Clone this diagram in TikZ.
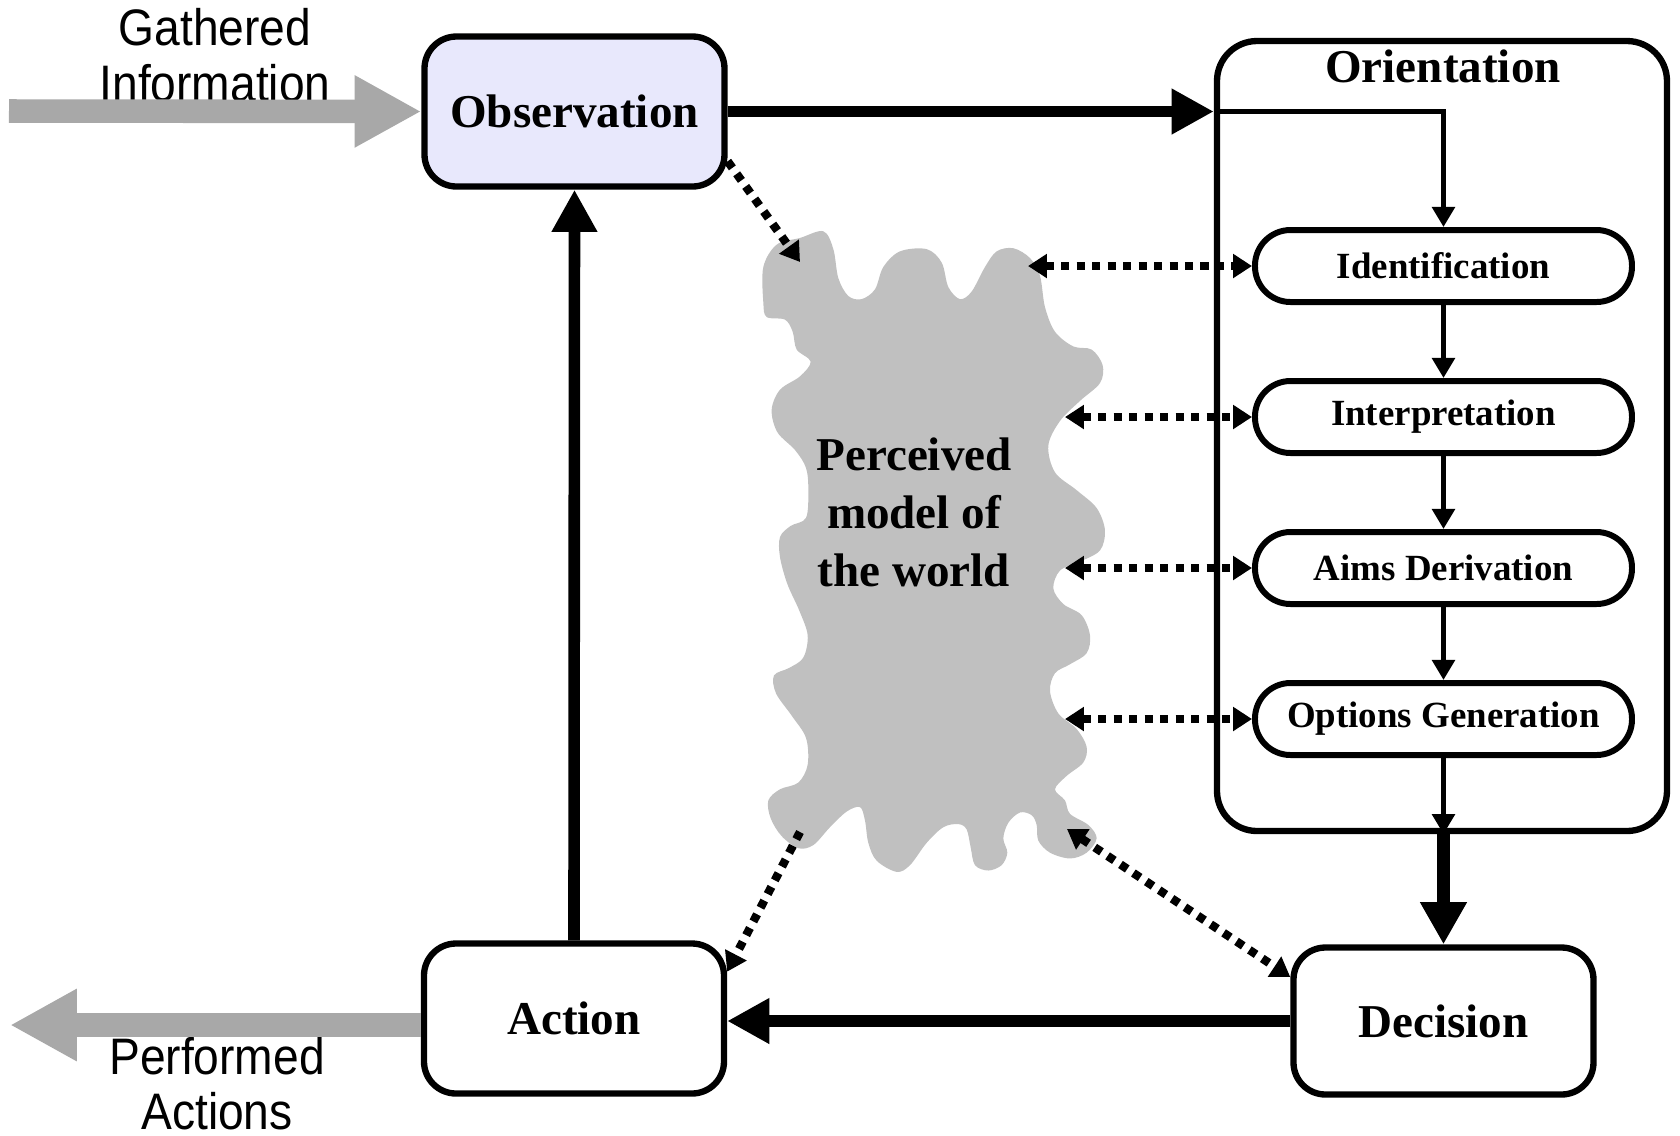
\documentclass[tikz,border=0pt]{standalone}
\usepackage{fontspec}
\setmainfont{Liberation Serif}
\newfontfamily\arialfont[FakeStretch=0.9]{Liberation Sans}
\usetikzlibrary{arrows.meta}
\definecolor{obsfill}{RGB}{232,232,252}
\definecolor{arrgray}{RGB}{168,168,168}
\definecolor{blobgray}{RGB}{192,192,192}
\tikzset{
  box/.style={draw, line width=1.8pt, rounded corners=3.2mm, minimum width=30mm, minimum height=15mm,
    font=\bfseries\fontsize{13.4}{16}\selectfont, inner sep=0pt},
  container/.style={draw, line width=1.8pt, rounded corners=4mm, minimum width=45mm, minimum height=79mm, inner sep=0pt},
  pill/.style={draw, line width=1.7pt, rounded corners=3.55mm, minimum width=37.7mm, minimum height=7.2mm,
    fill=white, font=\bfseries\fontsize{10.5}{12}\selectfont, inner sep=0pt},
  sanslbl/.style={font=\arialfont\fontsize{14.6}{16}\selectfont, inner sep=0pt, anchor=base},
  titlelbl/.style={font=\bfseries\fontsize{13.4}{16}\selectfont, inner sep=0pt, anchor=base},
  bigarr/.style={line width=3.3pt, -{Triangle[length=12pt,width=12.2pt]}},
  bigarrb/.style={line width=3.9pt, -{Triangle[length=12pt,width=12.5pt]}},
  innerarr/.style={line width=1.5pt, -{Triangle[length=5.7pt,width=6.3pt]}},
  grayarr/.style={draw=arrgray, line width=6.7pt, -{Triangle[length=19pt,width=19.2pt]}},
  dotline/.style={line width=2.4pt, dash pattern=on 2.3pt off 2.1pt},
  dotarr/.style={dotline, -{Triangle[length=5.4pt,width=6.6pt]}},
  dotarrb/.style={dotline, {Triangle[length=5.4pt,width=6.6pt]}-{Triangle[length=5.4pt,width=6.6pt]}},
}
\begin{document}
\begin{tikzpicture}[x=0.1mm, y=-0.1mm]
\useasboundingbox (0,0) rectangle (1680,1135);

% perceived model blob
\begin{scope}[shift={(700,200)}, xscale=1/3, yscale=1/2.24]
\fill[blobgray] plot[smooth cycle, tension=0.55] coordinates {
(190,150) (230,100) (300,85) (370,70) (400,110) (415,175) (445,215) (485,222) (525,200) (550,150)
(600,115) (680,110) (725,140) (745,195) (780,222) (815,205) (855,150) (890,115) (940,108) (990,130)
(1020,170) (1035,240) (1065,295) (1120,328) (1175,335) (1208,370) (1200,410) (1140,450) (1080,495)
(1045,550) (1065,610) (1130,650) (1190,690) (1215,740) (1200,785) (1140,810) (1080,830) (1060,870)
(1090,905) (1145,930) (1170,975) (1160,1015) (1110,1040) (1065,1060) (1050,1100) (1075,1150)
(1130,1185) (1160,1225) (1150,1260) (1100,1290) (1065,1320) (1095,1345) (1110,1375) (1165,1400)
(1190,1430) (1160,1462) (1110,1475) (1050,1462) (1015,1435) (1010,1400) (995,1378) (960,1372)
(925,1395) (910,1430) (922,1462) (905,1490) (865,1502) (825,1490) (812,1450) (800,1410) (775,1398)
(730,1405) (680,1440) (630,1490) (590,1505) (530,1480) (505,1440) (495,1390) (480,1360) (440,1370)
(390,1405) (340,1445) (295,1452) (245,1425) (212,1385) (205,1345) (240,1320) (295,1305) (323,1265)
(318,1205) (275,1155) (228,1105) (222,1065) (268,1048) (310,1025) (323,975) (298,920) (262,860)
(240,800) (240,755) (272,730) (318,712) (325,650) (318,600) (285,560) (232,520) (215,470) (240,425)
(300,395) (332,362) (290,335) (278,295) (255,268) (200,262) (190,230)};
\end{scope}
\node[font=\bfseries\fontsize{13.4}{16.5}\selectfont, align=center, inner sep=0pt] (world) at (914,512)
  {Perceived\\model of\\the world};

% main boxes
\node[box, fill=obsfill] (obs) at (574.5,111.5) {Observation};
\node[box, fill=white] (act) at (574,1018.5) {Action};
\node[box, fill=white, minimum height=14.7mm] (dec) at (1443.5,1021) {Decision};
\node[container] (orient) at (1442,436) {};
\node[titlelbl] (otitle) at (1443,82) {Orientation};

\node[pill] (ident) at (1443.5,266) {Identification};
\node[pill] (interp) at (1443.5,417) {Interpretation};
\node[pill] (aims) at (1443.5,568) {Aims Derivation};
\node[pill] (opts) at (1443.5,719) {Options Generation};

% outside labels
\node[sanslbl] (g1) at (215,45) {Gathered};
\node[sanslbl] (g2) at (215,101) {Information};
\node[sanslbl] (p1) at (217,1074) {Performed};
\node[sanslbl] (p2) at (217,1129) {Actions};

% gray arrows
\coordinate (gin) at (9,111);
\coordinate (pout) at (10,1025);
\draw[grayarr] (gin) -- (obs.west);
\draw[grayarr] (act.west |- pout) -- (pout);

% main flow
\draw[bigarr] (obs.east) -- (obs.east -| orient.west);
\draw[innerarr] (obs.east -| orient.west) -| (ident.north);
\draw[innerarr] (ident.south) -- (interp.north);
\draw[innerarr] (interp.south) -- (aims.north);
\draw[innerarr] (aims.south) -- (opts.north);
\draw[innerarr] (opts.south) -- (opts.south |- orient.south);
\draw[bigarrb] (dec.north |- orient.south) -- (dec.north);
\draw[bigarr] (dec.west) -- (dec.west -| act.east);
\draw[bigarr] (act.north) -- (obs.south);

% dotted links with the perceived model
\coordinate (bObs) at (800,262);
\coordinate (bI) at (1028,266);
\coordinate (bP) at (1065,417);
\coordinate (bA) at (1065,568);
\coordinate (bO) at (1065,719);
\coordinate (bDec) at (1067,829);
\coordinate (bAct) at (800,832);
\draw[dotarr] (obs.-18) -- (bObs);
\draw[dotarrb] (bI) -- (ident.west);
\draw[dotarrb] (bP) -- (interp.west);
\draw[dotarrb] (bA) -- (aims.west);
\draw[dotarrb] (bO) -- (opts.west);
\draw[dotarrb] (bDec) -- (dec.164);
\draw[dotarr] (bAct) -- (act.17);
\end{tikzpicture}
\end{document}
